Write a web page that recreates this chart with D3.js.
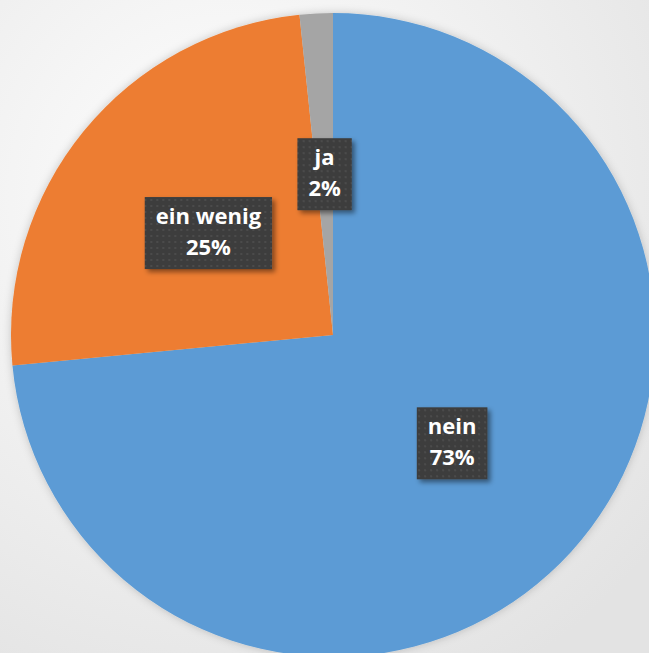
<!DOCTYPE html>
<html>
<head>
<meta charset="utf-8">
<script src="https://cdn.jsdelivr.net/npm/d3@7"></script>
<style>
  body { margin: 0; overflow: hidden; }
  text { font-family: "Open Sans", sans-serif; font-weight: bold; }
</style>
</head>
<body>
<div id="plot"></div>
<script>
// slices, clockwise from 12 o'clock
let categories = ['nein', 'ein wenig', 'ja'];
let shares = [73.49, 24.85, 1.66];
let colors = ['#5B9BD5', '#ED7D31', '#A5A5A5'];

let width = 649, height = 653;
let cx = 333, cy = 335, radius = 322;

let svg = d3.select('#plot')
  .append('svg')
  .attr('width', width)
  .attr('height', height);

let defs = svg.append('defs');

// background gradient
let bg = defs.append('radialGradient')
  .attr('id', 'bg')
  .attr('cx', '35%').attr('cy', '30%').attr('r', '85%');
bg.append('stop').attr('offset', '0%').attr('stop-color', '#ffffff');
bg.append('stop').attr('offset', '100%').attr('stop-color', '#e3e3e3');

svg.append('rect')
  .attr('width', width)
  .attr('height', height)
  .attr('fill', 'url(#bg)');

// soft shadow for the pie and the label boxes
let shadow = defs.append('filter').attr('id', 'shadow')
  .attr('x', '-20%').attr('y', '-20%').attr('width', '140%').attr('height', '140%');
shadow.append('feDropShadow')
  .attr('dx', 0).attr('dy', 0).attr('stdDeviation', 4)
  .attr('flood-color', '#000').attr('flood-opacity', 0.2);

let boxShadow = defs.append('filter').attr('id', 'boxShadow')
  .attr('x', '-30%').attr('y', '-30%').attr('width', '160%').attr('height', '160%');
boxShadow.append('feDropShadow')
  .attr('dx', 3).attr('dy', 3).attr('stdDeviation', 2.5)
  .attr('flood-color', '#000').attr('flood-opacity', 0.45);

// dotted dark fill for the labels
let pat = defs.append('pattern')
  .attr('id', 'dots')
  .attr('width', 6).attr('height', 6)
  .attr('patternUnits', 'userSpaceOnUse');
pat.append('rect').attr('width', 6).attr('height', 6).attr('fill', '#3d3d3d');
pat.append('rect').attr('x', 2).attr('y', 2).attr('width', 2).attr('height', 2).attr('fill', '#4c4c4c');

let data = categories.map((c, i) => ({ name: c, value: shares[i], color: colors[i] }));
let total = d3.sum(shares);

let pie = d3.pie()
  .sort(null)
  .value(d => d.value);

let arc = d3.arc()
  .innerRadius(0)
  .outerRadius(radius);

let g = svg.append('g')
  .attr('transform', `translate(${cx},${cy})`);

g.append('g')
  .attr('filter', 'url(#shadow)')
  .selectAll('path')
  .data(pie(data))
  .enter()
  .append('path')
  .attr('d', arc)
  .attr('fill', d => d.data.color);

let fmt = d3.format('.0%');

let labels = g.selectAll('.lbl')
  .data(pie(data))
  .enter()
  .append('g')
  .attr('class', 'lbl')
  .attr('transform', d => `translate(${arc.centroid(d)})`);

labels.each(function(d) {
  let lg = d3.select(this);
  let rect = lg.append('rect')
    .attr('fill', 'url(#dots)')
    .attr('filter', 'url(#boxShadow)');
  let t1 = lg.append('text')
    .attr('text-anchor', 'middle')
    .attr('y', -9)
    .attr('fill', '#fff')
    .attr('font-size', 22)
    .text(d.data.name);
  let t2 = lg.append('text')
    .attr('text-anchor', 'middle')
    .attr('y', 22)
    .attr('fill', '#fff')
    .attr('font-size', 22)
    .text(fmt(d.data.value / total));
  let w = Math.max(t1.node().getComputedTextLength(), t2.node().getComputedTextLength()) + 22;
  rect.attr('x', -w / 2).attr('y', -36).attr('width', w).attr('height', 72);
});
</script>
</body>
</html>
